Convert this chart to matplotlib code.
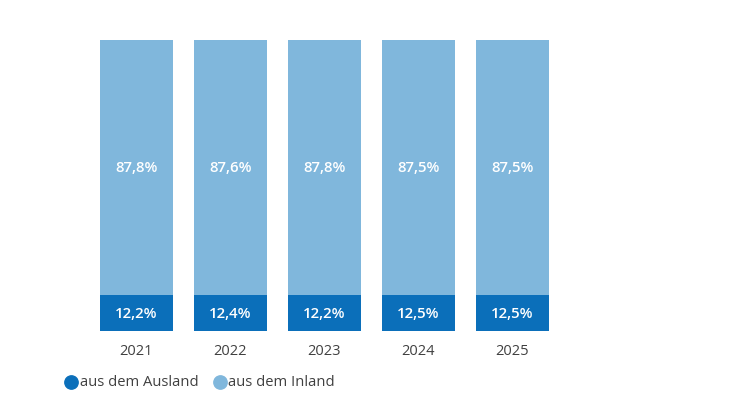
import matplotlib.pyplot as plt
import numpy as np

plt.rcParams["font.family"] = ["Open Sans", "DejaVu Sans"]

years = ["2021", "2022", "2023", "2024", "2025"]
ausland = [12.2, 12.4, 12.2, 12.5, 12.5]
inland = [87.8, 87.6, 87.8, 87.5, 87.5]
legend_labels = ["aus dem Ausland", "aus dem Inland"]

dark = "#0b6fba"
light = "#80b7dc"
grey = "#404040"

fig = plt.figure(figsize=(7.33, 4.14), dpi=100)
ax = fig.add_axes([89.5 / 733, 82 / 414, 470 / 733, 291.5 / 414])

x = np.arange(len(years))
w = 0.777
ax.bar(x, ausland, width=w, color=dark)
ax.bar(x, inland, width=w, bottom=ausland, color=light)

def fmt(v):
    return f"{v:.1f}%".replace(".", ",")

for i in range(len(years)):
    ax.text(x[i], ausland[i] / 2, fmt(ausland[i]), ha="center", va="center",
            color="white", fontsize=10.8, fontweight="semibold")
    ax.text(x[i], 56.3, fmt(inland[i]), ha="center", va="center",
            color="white", fontsize=10.8, fontweight="semibold")

ax.set_xlim(-0.5, 4.5)
ax.set_ylim(0, 100)
ax.set_xticks(x)
ax.set_xticklabels(years, fontsize=10.5, color=grey)
ax.tick_params(axis="x", length=0, pad=9)
ax.set_yticks([])
for s in ax.spines.values():
    s.set_visible(False)

# legend drawn by hand in pixel coordinates
lax = fig.add_axes([0, 0, 1, 1])
lax.set_xlim(0, 733)
lax.set_ylim(414, 0)
lax.axis("off")
ly = 382.5
for mx, tx, col, lab in [(70.5, 79.5, dark, legend_labels[0]),
                         (219.5, 228.5, light, legend_labels[1])]:
    lax.plot([mx], [ly], marker="o", markersize=9.6, color=col, linestyle="")
    lax.text(tx, ly, lab, ha="left", va="center", fontsize=10.6, color=grey)

fig.savefig("out.png", dpi=100)
